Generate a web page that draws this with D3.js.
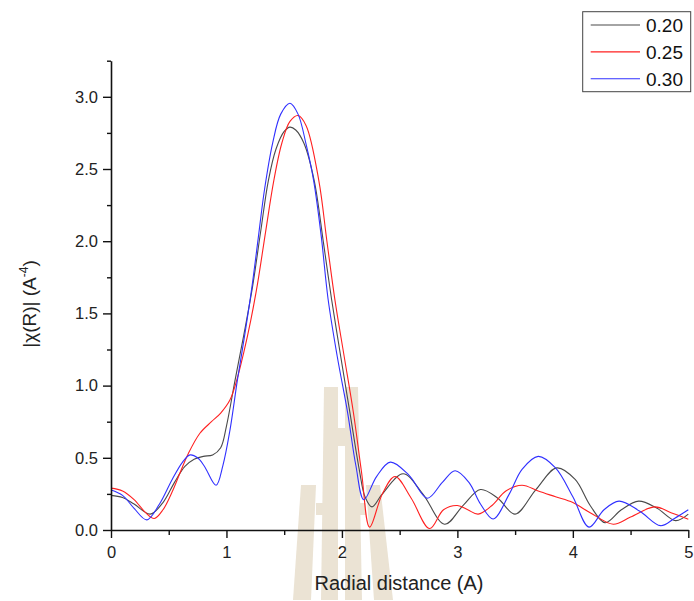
<!DOCTYPE html>
<html>
<head>
<meta charset="utf-8">
<script src="https://cdn.jsdelivr.net/npm/d3@7"></script>
<style>
  html, body { margin: 0; padding: 0; background: #fff; }
  svg { display: block; font-family: "Liberation Sans", Arial, sans-serif; }
</style>
</head>
<body>
<svg id="chart" width="694" height="601"></svg>
<script>
// Fourier-transform magnitude |chi(R)| for three sample settings
const seriesNames = ["0.20", "0.25", "0.30"];
const seriesColors = ["#4a4a4a", "#ff2020", "#3030ff"];

const r020 = [0, 0.1, 0.2, 0.34, 0.45, 0.55, 0.64, 0.72, 0.8, 0.88, 0.95, 1.0, 1.075, 1.15, 1.225, 1.295, 1.363, 1.43, 1.5, 1.55, 1.6, 1.67, 1.76, 1.84, 1.91, 1.99, 2.07, 2.15, 2.2, 2.26, 2.35, 2.53, 2.7, 2.89, 3.05, 3.2, 3.35, 3.5, 3.68, 3.86, 4.02, 4.15, 4.28, 4.42, 4.57, 4.73, 4.89, 5.0];
const v020 = [0.24, 0.225, 0.18, 0.11, 0.19, 0.33, 0.44, 0.49, 0.51, 0.52, 0.57, 0.72, 1.04, 1.35, 1.68, 2.06, 2.42, 2.64, 2.76, 2.79, 2.77, 2.68, 2.42, 1.99, 1.6, 1.2, 0.81, 0.42, 0.23, 0.16, 0.25, 0.39, 0.25, 0.04, 0.17, 0.28, 0.22, 0.11, 0.28, 0.43, 0.35, 0.17, 0.05, 0.14, 0.2, 0.15, 0.065, 0.11];

const r025 = [0, 0.1, 0.2, 0.3, 0.375, 0.45, 0.53, 0.6, 0.67, 0.77, 0.87, 0.95, 1.03, 1.09, 1.15, 1.21, 1.27, 1.34, 1.41, 1.48, 1.55, 1.62, 1.69, 1.8, 1.87, 1.94, 2.02, 2.1, 2.17, 2.24, 2.35, 2.46, 2.6, 2.76, 2.88, 3.0, 3.09, 3.18, 3.3, 3.42, 3.56, 3.7, 3.85, 4.0, 4.15, 4.35, 4.5, 4.71, 4.85, 5.0];
const v025 = [0.29, 0.27, 0.21, 0.12, 0.08, 0.14, 0.265, 0.4, 0.53, 0.67, 0.75, 0.81, 0.9, 1.04, 1.23, 1.45, 1.71, 2.07, 2.42, 2.68, 2.83, 2.87, 2.8, 2.42, 2.0, 1.59, 1.2, 0.81, 0.4, 0.02, 0.25, 0.37, 0.22, 0.01, 0.14, 0.17, 0.14, 0.11, 0.17, 0.27, 0.31, 0.27, 0.23, 0.19, 0.12, 0.04, 0.09, 0.16, 0.12, 0.075];

const r030 = [0, 0.1, 0.2, 0.31, 0.42, 0.53, 0.62, 0.685, 0.75, 0.81, 0.91, 0.97, 1.03, 1.095, 1.16, 1.22, 1.275, 1.33, 1.4, 1.47, 1.55, 1.62, 1.69, 1.755, 1.82, 1.88, 1.96, 2.05, 2.12, 2.19, 2.3, 2.42, 2.58, 2.74, 2.87, 2.98, 3.1, 3.2, 3.31, 3.45, 3.56, 3.7, 3.85, 4.0, 4.14, 4.27, 4.4, 4.58, 4.76, 4.88, 5.0];
const v030 = [0.277, 0.24, 0.15, 0.07, 0.18, 0.35, 0.47, 0.52, 0.5, 0.44, 0.31, 0.45, 0.69, 1.04, 1.36, 1.68, 2.02, 2.36, 2.68, 2.88, 2.955, 2.88, 2.67, 2.42, 2.04, 1.6, 1.2, 0.81, 0.45, 0.21, 0.37, 0.47, 0.38, 0.22, 0.33, 0.41, 0.33, 0.18, 0.076, 0.25, 0.42, 0.51, 0.43, 0.23, 0.02, 0.14, 0.2, 0.13, 0.03, 0.08, 0.14];

const xMajorTicks = [0, 1, 2, 3, 4, 5];
const xMinorTicks = [0.5, 1.5, 2.5, 3.5, 4.5];
const yMajorTicks = [0, 0.5, 1.0, 1.5, 2.0, 2.5, 3.0];
const yMinorTicks = [0.25, 0.75, 1.25, 1.75, 2.25, 2.75, 3.25];

const svg = d3.select("#chart");

// faint background logo
const logo = svg.append("g").attr("fill", "#ebe3d4");
const logoShapes = [
  [[324, 387], [338, 387], [338, 600], [321, 600]],
  [[345, 387], [358, 387], [362, 600], [345, 600]],
  [[338, 428], [345, 428], [345, 446], [338, 446]],
  [[301, 485], [316, 485], [311, 600], [293, 600]],
  [[366, 485], [380, 485], [393, 600], [374, 600]],
  [[316, 503], [324, 503], [324, 515], [316, 515]],
  [[358, 503], [366, 503], [366, 515], [358, 515]]
];
logo.selectAll("polygon").data(logoShapes).join("polygon")
  .attr("points", d => d.map(p => p.join(",")).join(" "));

const x = d3.scaleLinear().domain([0, 5]).range([111, 688.3]);
const y = d3.scaleLinear().domain([0, 3.25]).range([530, 60.7]);

const series = [
  { name: seriesNames[0], color: seriesColors[0], r: r020, v: v020 },
  { name: seriesNames[1], color: seriesColors[1], r: r025, v: v025 },
  { name: seriesNames[2], color: seriesColors[2], r: r030, v: v030 }
];

const line = d3.line()
  .x(d => x(d[0]))
  .y(d => y(d[1]))
  .curve(d3.curveCatmullRom.alpha(0.5));

svg.append("g").selectAll("path").data(series).join("path")
  .attr("fill", "none")
  .attr("stroke", d => d.color)
  .attr("stroke-width", 1.1)
  .attr("d", d => line(d.r.map((r, i) => [r, d.v[i]])));

// axes
const axisStyle = g => {
  g.selectAll("path.domain").attr("stroke", "#111").attr("stroke-width", 1.6);
  g.selectAll(".tick line").attr("stroke", "#111").attr("stroke-width", 1.4);
  g.selectAll(".tick text").attr("fill", "#222").style("font-size", "16.5px");
};

svg.append("g").attr("transform", "translate(0,530)")
  .call(d3.axisBottom(x).tickValues(xMinorTicks).tickSize(5).tickSizeOuter(0).tickFormat(""))
  .call(g => g.select("path.domain").remove())
  .call(axisStyle);
svg.append("g").attr("transform", "translate(0,530)")
  .call(d3.axisBottom(x).tickValues(xMajorTicks).tickSize(8).tickSizeOuter(0).tickPadding(8).tickFormat(d3.format("d")))
  .call(axisStyle);

svg.append("g").attr("transform", "translate(111,0)")
  .call(d3.axisLeft(y).tickValues(yMinorTicks).tickSize(4).tickSizeOuter(0).tickFormat(""))
  .call(g => g.select("path.domain").remove())
  .call(axisStyle);
svg.append("g").attr("transform", "translate(111,0)")
  .call(d3.axisLeft(y).tickValues(yMajorTicks).tickSize(8).tickSizeOuter(0).tickPadding(5).tickFormat(d3.format(".1f")))
  .call(axisStyle);

// axis titles
svg.append("text")
  .attr("x", 399).attr("y", 590)
  .attr("text-anchor", "middle")
  .attr("fill", "#222")
  .style("font-size", "20px")
  .text("Radial distance (A)");

const yTitle = svg.append("text")
  .attr("transform", "translate(36,304) rotate(-90)")
  .attr("text-anchor", "middle")
  .attr("fill", "#222")
  .style("font-size", "19px");
yTitle.append("tspan").text("|\u03C7(R)| (A");
yTitle.append("tspan").attr("dy", -8).style("font-size", "12px").text("-4");
yTitle.append("tspan").attr("dy", 8).text(")");

// legend
const legend = svg.append("g");
legend.append("rect")
  .attr("x", 582.7).attr("y", 11.7).attr("width", 108).attr("height", 80)
  .attr("fill", "#fff").attr("stroke", "#444").attr("stroke-width", 1);
const rowY = d3.scalePoint().domain(seriesNames).range([25, 78.7]);
const rows = legend.selectAll("g.row").data(series).join("g").attr("class", "row")
  .attr("transform", d => `translate(0,${rowY(d.name)})`);
rows.append("line")
  .attr("x1", 590.7).attr("x2", 640)
  .attr("stroke", d => d.color).attr("stroke-width", 1.1);
rows.append("text")
  .attr("x", 646).attr("dy", "0.36em")
  .attr("fill", "#111")
  .style("font-size", "19px")
  .text(d => d.name);
</script>
</body>
</html>
